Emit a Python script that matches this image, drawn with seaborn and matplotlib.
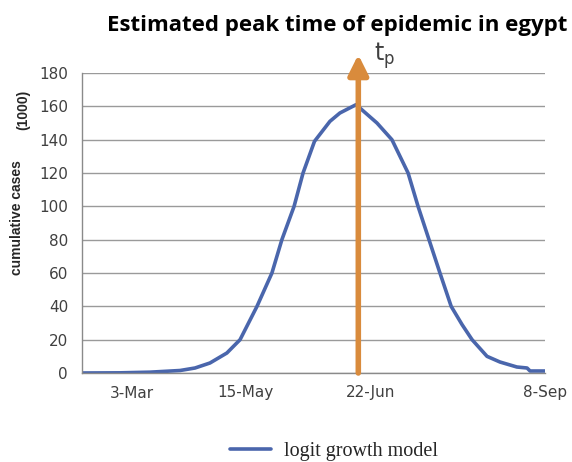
import matplotlib
matplotlib.use("Agg")
import matplotlib.pyplot as plt
import seaborn as sns
import pandas as pd

# data (x = day index, y = cases in thousands)
day_index = [0, 15.3, 27.3, 39.4, 45.4, 51.4, 58.2, 63.5, 70.3, 76.3, 80.3, 85.2, 88.8,
             93.4, 99.6, 103.6, 110.1, 118.5, 124.5, 131.0, 135.0, 139.4, 143.8, 148.3,
             152.7, 156.7, 162.7, 167.9, 174.7, 178.8, 180.0, 186]
cases = [0, 0.1, 0.5, 1.5, 3, 6, 12, 20, 40, 60, 80, 100, 120,
         139, 151, 156, 161, 150, 140, 120, 100, 80, 60, 40,
         29, 20, 10, 6.6, 3.6, 3, 1.2, 1.2]
tick_pos = [20, 65.5, 116, 186]
tick_labels = ["3-Mar", "15-May", "22-Jun", "8-Sep"]
peak_day = 111
series_name = "logit growth model"

df = pd.DataFrame({"day": day_index, "cases": cases, "model": series_name})

sns.set_theme(style="white")
plt.rcParams['font.family'] = ['DejaVu Sans']

fig = plt.figure(figsize=(5.72, 4.62), dpi=100)
ax = fig.add_axes([82/572, 1-373/462, (545-82)/572, 300/462])

sns.lineplot(data=df, x="day", y="cases", hue="model", palette=["#4A66AC"],
             linewidth=2.6, ax=ax, legend=True)

ax.set_xlim(0, 186)
ax.set_ylim(0, 180)
ax.set_yticks(range(0, 181, 20))
ax.set_xticks(tick_pos)
ax.set_xticklabels(tick_labels)
ax.tick_params(axis='both', length=0, labelsize=11, colors="#404040")
ax.tick_params(axis='y', pad=10)
ax.tick_params(axis='x', pad=9)
ax.yaxis.grid(True, color="#9a9a9a", linewidth=1)
ax.set_axisbelow(True)
for s in ["top", "right"]:
    ax.spines[s].set_visible(False)
for s in ["left", "bottom"]:
    ax.spines[s].set_color("#8a8a8a")
    ax.spines[s].set_linewidth(1)
ax.set_xlabel("")
ax.set_ylabel("")

# peak arrow
ax.annotate("", xy=(peak_day, 191), xytext=(peak_day, 0),
            arrowprops=dict(arrowstyle="-|>,head_width=0.5,head_length=1.0",
                            color="#D98B3C", lw=4, shrinkA=0, shrinkB=0),
            annotation_clip=False, zorder=5)
ax.text(peak_day + 6.5, 181, r"$\mathregular{t_p}$", fontsize=17, color="#404040",
        ha="left", va="bottom", family=["DejaVu Sans"])

# legend
ax.get_legend().remove()
handles, labels = ax.get_legend_handles_labels()
fig.legend(handles, labels, loc="center", bbox_to_anchor=(334/572, 1-451/462),
           frameon=False, prop={"family": "Liberation Serif", "size": 14.5},
           handlelength=2.0, handletextpad=0.65)

# title and y label
fig.text(107/572, 1-31/462, "Estimated peak time of epidemic in egypt",
         fontsize=16, fontweight="bold", color="black", ha="left", va="baseline",
         family=["Open Sans", "DejaVu Sans"])
fig.text(17/572, 1-218/462, "cumulative cases", rotation=90, fontsize=10,
         fontweight="bold", ha="center", va="center", family=["Liberation Sans"])
fig.text(23/572, 1-110/462, "(1000)", rotation=90, fontsize=10,
         fontweight="bold", ha="center", va="center", family=["Liberation Sans"])

fig.savefig("out.png", dpi=100)
